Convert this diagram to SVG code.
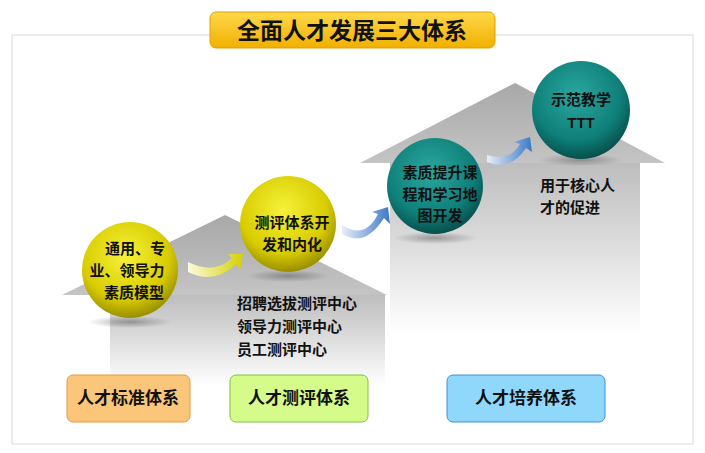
<svg xmlns="http://www.w3.org/2000/svg" width="705" height="453" viewBox="0 0 705 453">
<defs>
<linearGradient id="fade" x1="0" y1="0" x2="0" y2="1"><stop offset="0" stop-color="#bdbdbd"/><stop offset="1" stop-color="#ffffff"/></linearGradient>
<linearGradient id="roof" x1="0" y1="0" x2="0" y2="1"><stop offset="0" stop-color="#a8a8a8"/><stop offset="1" stop-color="#c4c4c4"/></linearGradient>
<radialGradient id="yel" cx="0.45" cy="0.35" r="0.65"><stop offset="0" stop-color="#f6f23a"/><stop offset="0.7" stop-color="#d8cc00"/><stop offset="1" stop-color="#9a8f00"/></radialGradient>
<radialGradient id="teal" cx="0.45" cy="0.35" r="0.65"><stop offset="0" stop-color="#2aa8a0"/><stop offset="0.7" stop-color="#0f7f79"/><stop offset="1" stop-color="#07504c"/></radialGradient>
<linearGradient id="title" x1="0" y1="0" x2="0" y2="1"><stop offset="0" stop-color="#ffd84a"/><stop offset="1" stop-color="#f0b000"/></linearGradient>
<linearGradient id="ay" x1="0" y1="0" x2="1" y2="0"><stop offset="0" stop-color="#fbfbe0"/><stop offset="1" stop-color="#d6d000"/></linearGradient>
<linearGradient id="ab" x1="0" y1="0" x2="1" y2="0"><stop offset="0" stop-color="#e8eef8"/><stop offset="1" stop-color="#3b78c8"/></linearGradient>
<radialGradient id="sh" cx="0.5" cy="0.5" r="0.5"><stop offset="0" stop-color="#555" stop-opacity="0.5"/><stop offset="1" stop-color="#555" stop-opacity="0"/></radialGradient>
</defs>
<style>
text{font-family:"Liberation Sans","Noto Sans CJK SC",sans-serif;font-weight:bold;fill:#111;}
.b{font-size:15px;text-anchor:middle}
.l{font-size:15px}
.box{font-size:17px;text-anchor:middle}
</style>
<rect x="12" y="35" width="681" height="409" fill="#fff" stroke="#d8d8d8"/>
<g id="houses">
<rect x="110" y="295" width="275" height="90" fill="url(#fade)"/>
<polygon points="62,295 225,215 387,295" fill="url(#roof)"/>
<rect x="390" y="163" width="250" height="170" fill="url(#fade)"/>
<polygon points="360,163 515,83 665,163" fill="url(#roof)"/>
</g>
<g id="title-box"><rect x="210" y="12" width="285" height="36" rx="6" fill="url(#title)" stroke="#e0a000"/><text x="352" y="39" font-size="23" text-anchor="middle">全面人才发展三大体系</text></g>
<g id="connectors">
<path d="M188,262 Q215,275 232,258 L228,254 L243,254 L240,270 L236,264 Q215,285 188,272 Z" fill="url(#ay)"/>
<path d="M342,225 Q365,240 378,214 L372,212 L388,207 L390,224 L384,218 Q365,248 342,234 Z" fill="url(#ab)"/>
<path d="M487,155 Q510,162 520,144 L514,142 L530,137 L532,152 L526,148 Q510,172 487,162 Z" fill="url(#ab)"/>
</g>
<g id="ball1"><ellipse cx="130" cy="322" rx="42" ry="6" fill="url(#sh)"/><circle cx="130" cy="270" r="48" fill="url(#yel)"/>
<text class="b" x="135" y="254">通用、专</text><text class="b" x="127" y="276">业、领导力</text><text class="b" x="134" y="298">素质模型</text></g>
<g id="ball2"><ellipse cx="288" cy="276" rx="42" ry="6" fill="url(#sh)"/><circle cx="288" cy="224" r="48" fill="url(#yel)"/>
<text class="b" x="292" y="228">测评体系开</text><text class="b" x="292" y="250">发和内化</text></g>
<g id="ball3"><ellipse cx="435" cy="238" rx="42" ry="6" fill="url(#sh)"/><circle cx="435" cy="186" r="48" fill="url(#teal)"/>
<text class="b" x="440" y="178">素质提升课</text><text class="b" x="440" y="200">程和学习地</text><text class="b" x="440" y="221">图开发</text></g>
<g id="ball4"><ellipse cx="581" cy="160" rx="42" ry="6" fill="url(#sh)"/><circle cx="581" cy="110" r="49" fill="url(#teal)"/>
<text class="b" x="581" y="105">示范教学</text><text class="b" x="581" y="128">TTT</text></g>
<g id="notes">
<text class="l" x="540" y="191">用于核心人</text><text class="l" x="540" y="213">才的促进</text>
<text class="l" x="237" y="309">招聘选拔测评中心</text><text class="l" x="237" y="332">领导力测评中心</text><text class="l" x="237" y="355">员工测评中心</text>
</g>
<g id="box1"><rect x="67" y="375" width="123" height="47" rx="6" fill="#fbc67a" stroke="#e59a3c"/><text class="box" x="128" y="404">人才标准体系</text></g>
<g id="box2"><rect x="230" y="375" width="138" height="47" rx="6" fill="#d5fb8a" stroke="#7fc23a"/><text class="box" x="299" y="404">人才测评体系</text></g>
<g id="box3"><rect x="447" y="375" width="158" height="47" rx="6" fill="#8fd8fb" stroke="#3f90d8"/><text class="box" x="526" y="404">人才培养体系</text></g>
</svg>
